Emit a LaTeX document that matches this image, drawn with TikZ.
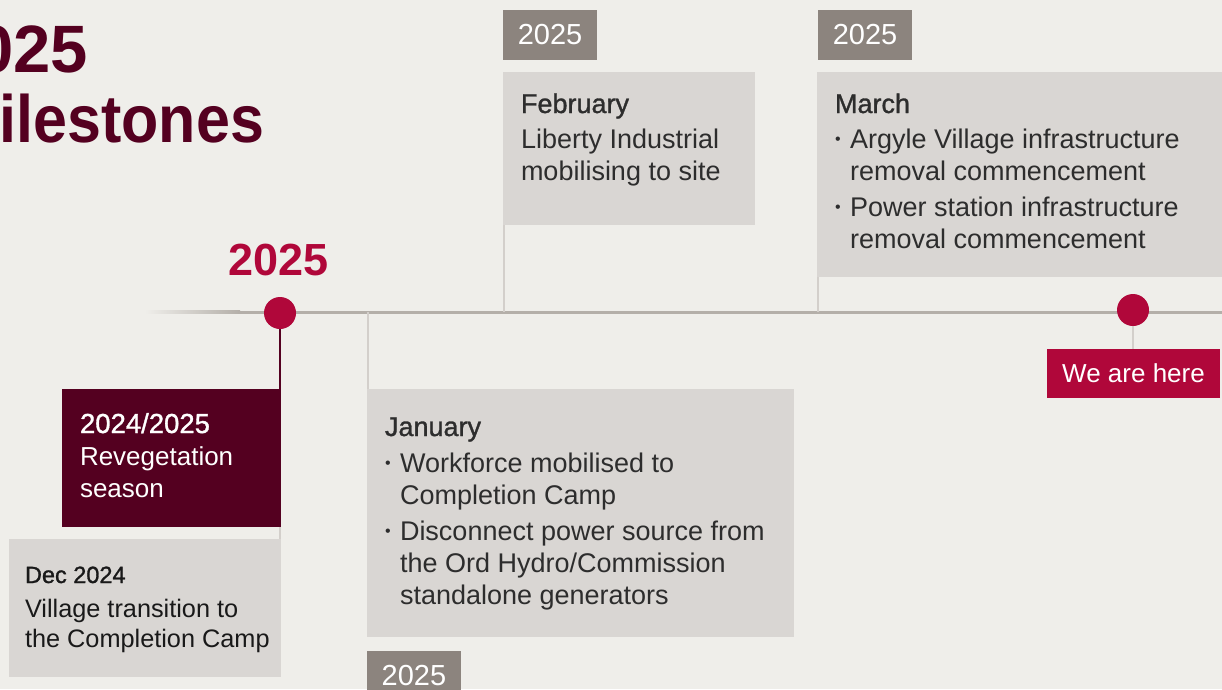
\documentclass[tikz,border=0pt]{standalone}
\usepackage{fontspec}
\setmainfont{Liberation Sans}
\newfontfamily\medfont[FakeBold=1.2]{Liberation Sans}
\usetikzlibrary{positioning}
\definecolor{bgcol}{HTML}{EFEEEA}
\definecolor{boxgrey}{HTML}{D9D6D3}
\definecolor{taggrey}{HTML}{8C847E}
\definecolor{maroon}{HTML}{540020}
\definecolor{rtred}{HTML}{B0073A}
\definecolor{linegrey}{HTML}{B4AFA9}
\definecolor{stemgrey}{HTML}{D3CFCB}
\definecolor{txtcol}{HTML}{2D2D2D}
\newcommand{\bul}{\makebox[15pt][l]{\raisebox{3.5pt}{\fontsize{16}{16}\selectfont\textbullet}}}
\newcommand{\ind}{\hspace*{15pt}}

\begin{document}
\begin{tikzpicture}[x=1pt,y=-1pt]
\tikzstyle{every node}=[inner sep=0pt, outer sep=0pt]
\tikzstyle{panel}=[fill=boxgrey, anchor=north west]
\tikzstyle{yeartag}=[fill=taggrey, text=white, anchor=north west, minimum width=94, minimum height=50, font=\fontsize{29}{32}\selectfont]
\tikzstyle{body}=[text=txtcol, anchor=base west, font=\fontsize{27}{32}\selectfont]
\tikzstyle{stem}=[line width=2pt, stemgrey]
\tikzstyle{dot}=[circle, fill=rtred, minimum size=32]

\useasboundingbox (0,0) rectangle (1222,689);
\fill[bgcol] (0,0) rectangle (1222,689);
\clip (0,0) rectangle (1222,689);

\node[anchor=base east, text=maroon, font=\fontsize{67}{70}\selectfont\bfseries] (title) at (88,72) {2025};
\node[anchor=base east, text=maroon, font=\fontsize{67}{70}\selectfont\bfseries] (subtitle) at (264,142) {\scalebox{0.91}[1]{Milestones}};
\node[anchor=base west, text=rtred, font=\fontsize{45}{50}\selectfont\bfseries] (yearlbl) at (228,275) {2025};

\coordinate (tlfade) at (240,312);
\coordinate (tlend) at (1222,312);
\shade[left color=bgcol, right color=linegrey] (145,310.5) rectangle (240,313.5);
\draw[line width=3pt, linegrey] (tlfade) -- (tlend);

\node[panel, minimum width=252, minimum height=153] (febbox) at (503,72) {};
\node[yeartag] (febtag) at (503,10) {2025};
\node[panel, minimum width=405, minimum height=205] (marbox) at (817,72) {};
\node[yeartag] (martag) at (818,10) {2025};
\node[panel, minimum width=427, minimum height=248] (janbox) at (367,389) {};
\node[yeartag] (jantag) at (367,651) {2025};
\node[fill=maroon, anchor=north west, minimum width=219, minimum height=138] (revbox) at (62,389) {};
\node[panel, minimum width=272, minimum height=138] (decbox) at (9,539) {};
\node[fill=rtred, text=white, anchor=north west, minimum width=173, minimum height=49, font=\fontsize{26}{32}\selectfont] (herebox) at (1047,349) {\raisebox{-1.5pt}{We are here}};

\coordinate (febfoot) at (504,312);
\coordinate (marfoot) at (818,312);
\coordinate (janfoot) at (368,312);
\draw[stem] (febfoot) -- (febfoot |- febbox.south);
\draw[stem] (marfoot) -- (marfoot |- marbox.south);
\draw[stem] (janfoot) -- (janfoot |- janbox.north);

\node[dot] (dot1) at (280,313) {};
\node[dot] (dot2) at (1133,310) {};
\draw[line width=2pt, maroon] (dot1.south) -- (dot1 |- revbox.north);
\draw[stem] (dot1 |- revbox.south) -- (dot1 |- decbox.north);
\draw[stem] (dot2.south) -- (dot2 |- herebox.north);

\node[body] (febtxt) at (521,113) {\parbox[t]{230pt}{{\medfont February}\\[3pt]
Liberty Industrial\\
mobilising to site}};
\node[body] (martxt) at (835,113) {\parbox[t]{380pt}{{\medfont March}\\[3pt]
\bul Argyle Village infrastructure\\
\ind removal commencement\\[4pt]
\bul Power station infrastructure\\
\ind removal commencement}};
\node[body] (jantxt) at (385,436) {\parbox[t]{400pt}{{\medfont January}\\[4pt]
\bul Workforce mobilised to\\
\ind Completion Camp\\[4pt]
\bul Disconnect power source from\\
\ind the Ord Hydro/Commission\\
\ind standalone generators}};
\node[body, text=white, font=\fontsize{26}{32}\selectfont] (revtxt) at (80,433) {\parbox[t]{200pt}{{\medfont\fontsize{27.5}{32}\selectfont 2024/2025}\\
Revegetation\\
season}};
\node[body, text=black!90, font=\fontsize{25.3}{30}\selectfont] (dectxt) at (25,583) {\parbox[t]{260pt}{{\medfont\fontsize{23.5}{30}\selectfont Dec 2024}\\[4pt]
Village transition to\\
the Completion Camp}};
\end{tikzpicture}
\end{document}
